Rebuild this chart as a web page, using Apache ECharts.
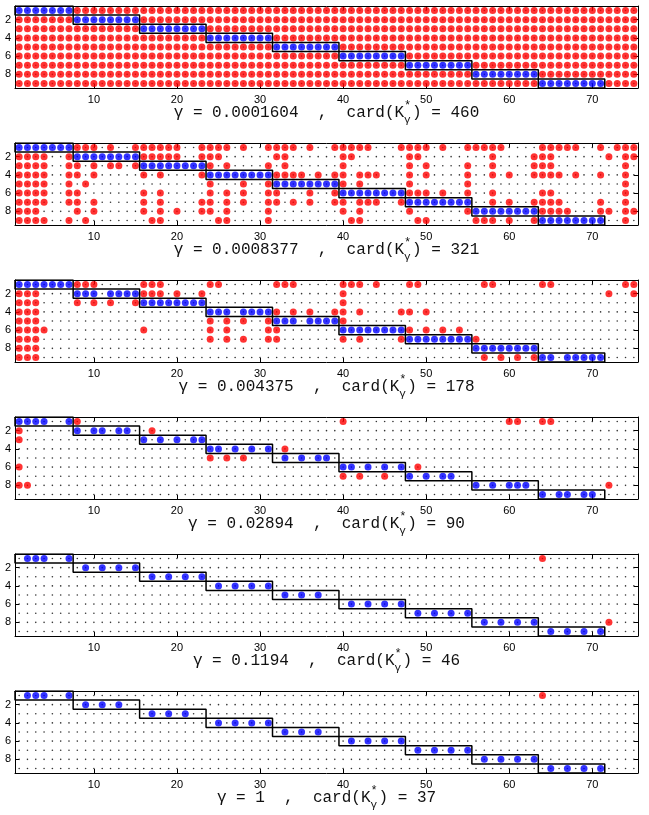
<!DOCTYPE html>
<html><head><meta charset="utf-8">
<script src="https://cdn.jsdelivr.net/npm/echarts@6/dist/echarts.min.js"></script>
<style>html,body{margin:0;padding:0;background:#fff}#c{width:649px;height:815px}</style>
</head><body><div id="c"></div>
<script>
// ---------------- data ----------------
const xTickValues = [10, 20, 30, 40, 50, 60, 70];
const yTickValues = [2, 4, 6, 8];
const nCols = 75;
const nRows = 9;
const gammaLabels = ['0.0001604', '0.0008377', '0.004375', '0.02894', '0.1194', '1'];
const cardValues = [460, 321, 178, 90, 46, 37];
const blockStart = [1, 8, 16, 24, 32, 40, 48, 56, 64];
const blockEnd   = [7, 15, 23, 31, 39, 47, 55, 63, 71];

// red cells per row (column ranges)
const red1 = ['8-75', '1-7,16-75', '1-15,24-75', '1-23,32-75', '1-31,40-75', '1-39,48-75', '1-47,56-75', '1-55,64-75', '1-63,72-75'];
const red2 = [
  '8-10,12,15-20,23-26,28,31-34,36,39-43,47-50,52,55-59,64-68,71,73-75',
  '1-4,7,16-20,23-25,32,33,40,41,48,49,58,63-65,72,74,75',
  '1-4,7,8,10,12,13,15,24,26,31,33,40,48,50,55,58,63-65,74',
  '1-4,7,8,10,16,18,23,32-35,37,39,40,42-44,48,50,55,58,60,63-66,68,71,74',
  '1-4,7,9,24,28,31,40,42,48,55,74',
  '1-4,7,8,16,18,24,26,28,31,32,36,39,48-50,52,55,58,64,65,74',
  '1-4,7,8,10,16,18,23,24,26,28,31,32,34,36,39,40,42-44,47,58,60,63-66,71,74',
  '1-3,8,10,16,18,20,23,24,26,31,40,42,48,55,64-67,71,72,74,75',
  '1-4,7,9,17,18,25,26,31,41,42,49,50,56-58,60,63,74'
];
const red3 = [
  '8-10,16-18,24,25,32-34,40-42,44,48,49,57,58,64,65,74,75',
  '1-3,16-18,20,23,40,72,75',
  '1-3,8,10,12,15,40',
  '1-3,32,34,36,39,40,42,47,48,50',
  '1-3,24,26,28,31,40',
  '1-4,16,24,26,31,32,48,50,52,54',
  '1-3,24,26,28,31,32,40,42,47,56',
  '1-3',
  '1-3,57,59,61,63'
];
const red4 = ['8,40,60,61,64,65', '1,17', '1', '33', '24,26,28', '1,49', '40,42,45', '1,2,72', ''];
const red5 = ['64', '', '', '', '', '', '', '72', ''];
const red6 = ['64', '', '', '', '', '', '', '', ''];

// blue cells per row (column ranges)
const blue1 = ['1-7', '8-15', '16-23', '24-31', '32-39', '40-47', '48-55', '56-63', '64-71'];
const blue2 = ['1-7', '8-15', '16-23', '24-31', '32-39', '40-47', '48-55', '56-63', '64-71'];
const blue3 = ['1-7', '8-10,12-15', '16-23', '24-26,28-31', '32-34,36-39', '40-47', '48-55', '56-63', '64,65,67-71'];
const blue4 = ['1-4,7', '8,10,11,13,14', '16,18,20,22,23', '24,25,27,29,31', '33,35,37,38', '40,41,43,45,47', '48,50,52,53', '56,58,60,61,62', '64,66,67,69,70'];
const blue5 = ['2,3,4,7', '9,11,13,15', '17,19,21,23', '25,27,29,31', '33,35,37', '41,43,45,47', '49,51,53,55', '57,59,61,63', '65,67,69,71'];
const blue6 = ['2,3,4,7', '9,11,13', '17,19,21', '25,27,29,31', '33,35,37', '41,43,45,47', '49,51,53,55', '57,59,61,63', '65,67,69,71'];

const redPanels = [red1, red2, red3, red4, red5, red6];
const bluePanels = [blue1, blue2, blue3, blue4, blue5, blue6];

// ---------------- helpers ----------------
function parseRanges(s) {
  const out = [];
  if (!s) return out;
  s.split(',').forEach(p => {
    const q = p.trim();
    if (!q) return;
    if (q.indexOf('-') > 0) {
      const [a, b] = q.split('-').map(Number);
      for (let k = a; k <= b; k++) out.push(k);
    } else out.push(Number(q));
  });
  return out;
}
function cells(rows) {
  const pts = [];
  rows.forEach((s, r) => parseRanges(s).forEach(c => pts.push([c, r + 1])));
  return pts;
}

// ---------------- layout ----------------
const plotLeft = 15, plotWidth = 623, plotH = 82, firstTop = 6, step = 137;
const FONT = "'Liberation Mono', 'DejaVu Sans Mono', monospace";
const fs = 16, cw = fs * 0.6;

const grids = [], xAxes = [], yAxes = [], series = [], graphics = [];
const bgDots = [];
for (let r = 1; r <= nRows; r++) for (let c = 1; c <= nCols; c++) bgDots.push([c, r]);

for (let i = 0; i < 6; i++) {
  const top = firstTop + step * i;
  grids.push({ left: plotLeft, top: top, width: plotWidth, height: plotH });
  const axLine = { show: true, lineStyle: { color: '#000', width: 1 } };
  const xBase = {
    type: 'value', gridIndex: i, min: 0.5, max: 75.5,
    axisLine: axLine, splitLine: { show: false },
    axisTick: { show: true, inside: true, length: 4, customValues: xTickValues, lineStyle: { color: '#000' } }
  };
  xAxes.push(Object.assign({}, xBase, {
    position: 'bottom',
    axisLabel: { show: true, customValues: xTickValues, fontSize: 11, color: '#000', margin: 6, fontFamily: "'Liberation Sans', Arial, sans-serif" }
  }));
  xAxes.push(Object.assign({}, xBase, { position: 'top', axisLabel: { show: false } }));
  const yBase = {
    type: 'value', gridIndex: i, min: 0.5, max: 9.5, inverse: true,
    axisLine: axLine, splitLine: { show: false },
    axisTick: { show: true, inside: true, length: 4, customValues: yTickValues, lineStyle: { color: '#000' } }
  };
  yAxes.push(Object.assign({}, yBase, {
    position: 'left',
    axisLabel: { show: true, customValues: yTickValues, fontSize: 11, color: '#000', margin: 4, fontFamily: "'Liberation Sans', Arial, sans-serif" }
  }));
  yAxes.push(Object.assign({}, yBase, { position: 'right', axisLabel: { show: false } }));

  const xi = 2 * i, yi = 2 * i;
  series.push({ type: 'scatter', xAxisIndex: xi, yAxisIndex: yi, data: bgDots, symbolSize: 1.6,
    itemStyle: { color: '#000' }, silent: true, z: 1 });
  series.push({ type: 'scatter', xAxisIndex: xi, yAxisIndex: yi, data: cells(redPanels[i]), symbolSize: 7,
    itemStyle: { color: '#ff0000' }, silent: true, z: 2 });
  series.push({ type: 'scatter', xAxisIndex: xi, yAxisIndex: yi, data: cells(bluePanels[i]), symbolSize: 7,
    itemStyle: { color: '#0000ff' }, silent: true, z: 3 });
  for (let r = 0; r < nRows; r++) {
    const a = blockStart[r] - 0.5, b = blockEnd[r] + 0.5, y0 = r + 0.5, y1 = r + 1.5;
    series.push({ type: 'line', xAxisIndex: xi, yAxisIndex: yi, symbol: 'none', silent: true, z: 5,
      lineStyle: { color: '#000', width: 1.5 },
      data: [[a, y0], [b, y0], [b, y1], [a, y1], [a, y0]] });
  }

  // caption
  const s1 = 'γ = ' + gammaLabels[i] + '  ,  card(K';
  const s2 = ') = ' + cardValues[i];
  const supW = 8;
  const total = (s1.length + s2.length) * cw + supW;
  const cx = plotLeft + plotWidth / 2;
  const x0 = cx - total / 2;
  const ty = top + plotH + 26;
  graphics.push({ type: 'text', left: x0, top: ty - 9, style: { text: s1, font: fs + 'px ' + FONT, fill: '#111' } });
  graphics.push({ type: 'text', left: x0 + s1.length * cw, top: ty - 14, style: { text: '*', font: '12px ' + FONT, fill: '#111' } });
  graphics.push({ type: 'text', left: x0 + s1.length * cw, top: ty + 1, style: { text: 'γ', font: '11px ' + FONT, fill: '#111' } });
  graphics.push({ type: 'text', left: x0 + s1.length * cw + supW, top: ty - 9, style: { text: s2, font: fs + 'px ' + FONT, fill: '#111' } });
}

const chart = echarts.init(document.getElementById('c'), null, { renderer: 'canvas' });
chart.setOption({
  animation: false,
  backgroundColor: '#fff',
  grid: grids, xAxis: xAxes, yAxis: yAxes, series: series, graphic: graphics
});
</script></body></html>
